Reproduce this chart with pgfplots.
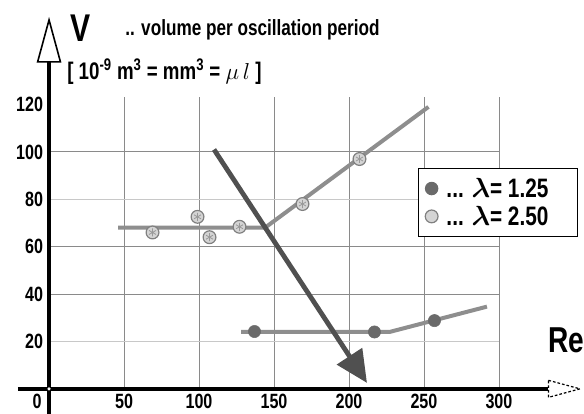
\documentclass[border=0pt]{standalone}
\usepackage{fontspec}
\setmainfont{Liberation Sans}[FakeStretch=0.78]
\usepackage{amsmath}
\usepackage{pgfplots}
\pgfplotsset{compat=1.18}
\usetikzlibrary{arrows.meta}
\definecolor{linegray}{HTML}{8E8E8E}
\definecolor{dotdark}{HTML}{6A6A6A}
\definecolor{dotlight}{HTML}{D4D4D4}
\definecolor{arrowgray}{HTML}{505050}
\definecolor{gridgray}{HTML}{8A8A8A}
\definecolor{gridlight}{HTML}{C8C8C8}

\begin{document}
\begin{tikzpicture}
\begin{axis}[
  x=1.125pt, y=1.7775pt,
  xmin=0, xmax=300, ymin=0, ymax=123,
  scale only axis, clip=false,
  axis line style={draw=none},
  major tick length=0pt,
  xtick={50,100,...,300},
  ytick={20,40,...,120},
  xmajorgrids,
  grid style={gridgray, line width=0.7pt},
  /pgf/number format/assume math mode=true,
  ticklabel style={font=\fontsize{15.5}{17}\selectfont\bfseries},
  xticklabel style={yshift=-0.5pt},
  yticklabel style={xshift=-1pt},
  legend style={at={(axis cs:246,93.2)}, anchor=north west, draw=black,
    line width=0.9pt, font=\fontsize{20}{22}\selectfont\bfseries,
    inner xsep=5pt, inner ysep=5pt, row sep=1pt,
    nodes={inner xsep=3pt}},
  legend cell align=left,
]
% horizontal grid lines
\draw[gridlight, line width=0.7pt] (axis cs:0,20) -- (axis cs:300,20);
\draw[gridgray, line width=0.7pt] (axis cs:0,40) -- (axis cs:300,40);
\draw[gridgray, line width=0.7pt] (axis cs:0,60) -- (axis cs:300,60);
\draw[gridlight, line width=0.7pt] (axis cs:0,80) -- (axis cs:300,80);
\draw[gridgray, line width=0.7pt] (axis cs:0,100) -- (axis cs:300,100);

% fitted trend lines
\addplot[line width=3pt, linegray, forget plot] coordinates {(46,68) (144,68) (253,119)};
\addplot[line width=3pt, linegray, forget plot] coordinates {(128,24) (227,24) (292,34.7)};

% lambda = 1.25
\addplot[only marks, mark=*, mark size=4.6pt, mark options={fill=dotdark, draw=dotdark}]
  coordinates {(137,24.2) (217,24) (257,28.8)};
\addlegendentry{\,... $\boldsymbol{\lambda}$= 1.25\hspace*{0.7em}}

% lambda = 2.50
\addplot[only marks, mark=*, mark size=4.8pt, mark options={fill=dotlight, draw=gray, line width=0.9pt}]
  coordinates {(69,66) (99,72.6) (107,64) (127,68.4) (169,78) (207,97)};
\addlegendentry{\,... $\boldsymbol{\lambda}$= 2.50\hspace*{0.7em}}
\addplot[only marks, mark=asterisk, mark size=3pt, mark options={draw=gray!80, line width=0.6pt}, forget plot]
  coordinates {(69,66) (99,72.6) (107,64) (127,68.4) (169,78) (207,97)};

% axes
\draw[line width=3pt] (axis cs:0,-10.6) -- (axis cs:0,138);
\draw[line width=1.2pt, fill=white, line join=miter] (axis cs:-7.6,138) -- (axis cs:0,155.7) -- (axis cs:7.6,138) -- cycle;
\draw[line width=3pt] (axis cs:-20.7,0) -- (axis cs:333,0);
\draw[line width=0.9pt, fill=white, dashed, dash pattern=on 2pt off 1.5pt] (axis cs:333,3.6) -- (axis cs:354,0) -- (axis cs:333,-3.6) -- cycle;
\fill[white] (axis cs:0,0) circle[radius=1.3pt];

% the arrow
\draw[line width=3.6pt, arrowgray, -{Triangle[length=24pt, width=22pt]}] (axis cs:110,101) -- (axis cs:212,2.5);

% texts
\node[inner sep=0pt, font=\fontsize{15.5}{17}\selectfont\bfseries] at (axis cs:-8,-5.2) {0};
\node[font=\fontsize{29}{31}\selectfont\bfseries] at (axis cs:20.7,152.3) {V};
\node[anchor=west, inner sep=0pt, font=\fontsize{16.5}{18}\selectfont\bfseries] at (axis cs:50.7,151.5) {.. volume per oscillation period};
\node[anchor=west, inner sep=0pt, font=\fontsize{18}{20}\selectfont\bfseries] at (axis cs:12,133.8) {[ 10\textsuperscript{-9} m\textsuperscript{3} = mm\textsuperscript{3} = $\mu\, l$ ]};
\node[font=\fontsize{27}{29}\selectfont\bfseries] at (axis cs:344.7,20.7) {Re};

\coordinate (bl) at (axis cs:-32.7,-10.6);
\coordinate (tr) at (axis cs:356.7,164.1);
\end{axis}
\pgfresetboundingbox
\path[use as bounding box] (bl) rectangle (tr);
\end{tikzpicture}
\end{document}
